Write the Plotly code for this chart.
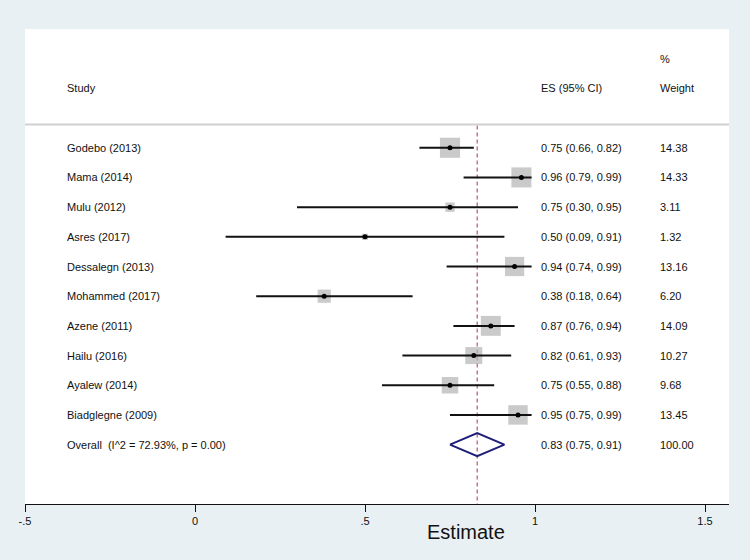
import plotly.graph_objects as go

studies = ["Godebo (2013)", "Mama (2014)", "Mulu (2012)", "Asres (2017)", "Dessalegn (2013)",
           "Mohammed (2017)", "Azene (2011)", "Hailu (2016)", "Ayalew (2014)", "Biadglegne (2009)"]
es = [0.75, 0.96, 0.75, 0.50, 0.94, 0.38, 0.87, 0.82, 0.75, 0.95]
lo = [0.66, 0.79, 0.30, 0.09, 0.74, 0.18, 0.76, 0.61, 0.55, 0.75]
hi = [0.82, 0.99, 0.95, 0.91, 0.99, 0.64, 0.94, 0.93, 0.88, 0.99]
weights = [14.38, 14.33, 3.11, 1.32, 13.16, 6.20, 14.09, 10.27, 9.68, 13.45]
overall_label = "Overall  (I^2 = 72.93%, p = 0.00)"
overall_es, overall_lo, overall_hi, overall_w = 0.83, 0.75, 0.91, 100.00
tick_vals = [-0.5, 0, 0.5, 1, 1.5]
tick_text = ["-.5", "0", ".5", "1", "1.5"]

FONT = "Liberation Sans, Arial, sans-serif"
rows = list(range(1, len(studies) + 1))
overall_row = len(studies) + 1

fig = go.Figure()

# dashed overall line
fig.add_trace(go.Scatter(x=[overall_es, overall_es], y=[0.25, 13.0], mode="lines",
                         line=dict(color="#B8576C", width=1.2, dash="4px,3px"),
                         hoverinfo="skip", showlegend=False))

# weight squares
fig.add_trace(go.Scatter(x=es, y=rows, mode="markers",
                         marker=dict(symbol="square", color="#B3B3B3",
                                     size=[5.3 * w ** 0.5 for w in weights], line=dict(width=0)),
                         showlegend=False))

# CI lines
cx, cy = [], []
for r, a, b in zip(rows, lo, hi):
    cx += [a, b, None]
    cy += [r, r, None]
fig.add_trace(go.Scatter(x=cx, y=cy, mode="lines", line=dict(color="#111111", width=2),
                         showlegend=False))

# point estimates
fig.add_trace(go.Scatter(x=es, y=rows, mode="markers",
                         marker=dict(symbol="circle", color="#000000", size=5),
                         showlegend=False))

# diamond
h = 0.39
fig.add_trace(go.Scatter(x=[overall_lo, overall_es, overall_hi, overall_es, overall_lo],
                         y=[overall_row, overall_row - h, overall_row, overall_row + h, overall_row],
                         mode="lines", line=dict(color="#1F1F7A", width=2), showlegend=False))

# separator line
fig.add_shape(type="line", xref="paper", yref="y", x0=0, x1=1, y0=0.22, y1=0.22,
              line=dict(color="#D0D0D0", width=2))

ann = []
def txt(x, y, s, size=11, anchor="left"):
    ann.append(dict(x=x, y=y, xref="x", yref="y", text=s, showarrow=False, xanchor=anchor,
                    yanchor="middle", font=dict(family=FONT, size=size, color="#111111")))

x_study, x_es, x_w = -0.382, 1.012, 1.362
txt(x_study, -1.0, "Study")
txt(x_es, -1.0, "ES (95% CI)")
txt(x_w, -1.0, "Weight")
txt(x_w, -2.0, "%")
for r, s, e, a, b, w in zip(rows, studies, es, lo, hi, weights):
    txt(x_study, r, s)
    txt(x_es, r, f"{e:.2f} ({a:.2f}, {b:.2f})")
    txt(x_w, r, f"{w:.2f}")
txt(x_study, overall_row, overall_label)
txt(x_es, overall_row, f"{overall_es:.2f} ({overall_lo:.2f}, {overall_hi:.2f})")
txt(x_w, overall_row, f"{overall_w:.2f}")

ann.append(dict(x=0.797, y=-0.031, xref="x", yref="paper", text="Estimate", showarrow=False,
                xanchor="center", yanchor="top", font=dict(family=FONT, size=20, color="#111111")))

fig.update_layout(
    width=750, height=560,
    margin=dict(l=25, r=21, t=29, b=56),
    paper_bgcolor="#E9F0F3", plot_bgcolor="#FFFFFF",
    annotations=ann,
    xaxis=dict(range=[-0.5, 1.5706], tickvals=tick_vals, ticktext=tick_text,
               showgrid=False, zeroline=False, showline=True, linecolor="#111111", linewidth=1,
               ticks="outside", ticklen=7, tickcolor="#111111",
               tickfont=dict(family=FONT, size=11, color="#111111")),
    yaxis=dict(range=[13.0, -3.0], visible=False, showgrid=False, zeroline=False),
)

fig.write_html("out.html", config={"displayModeBar": False},
               post_script="document.body.style.margin='0';document.body.style.overflow='hidden';")
